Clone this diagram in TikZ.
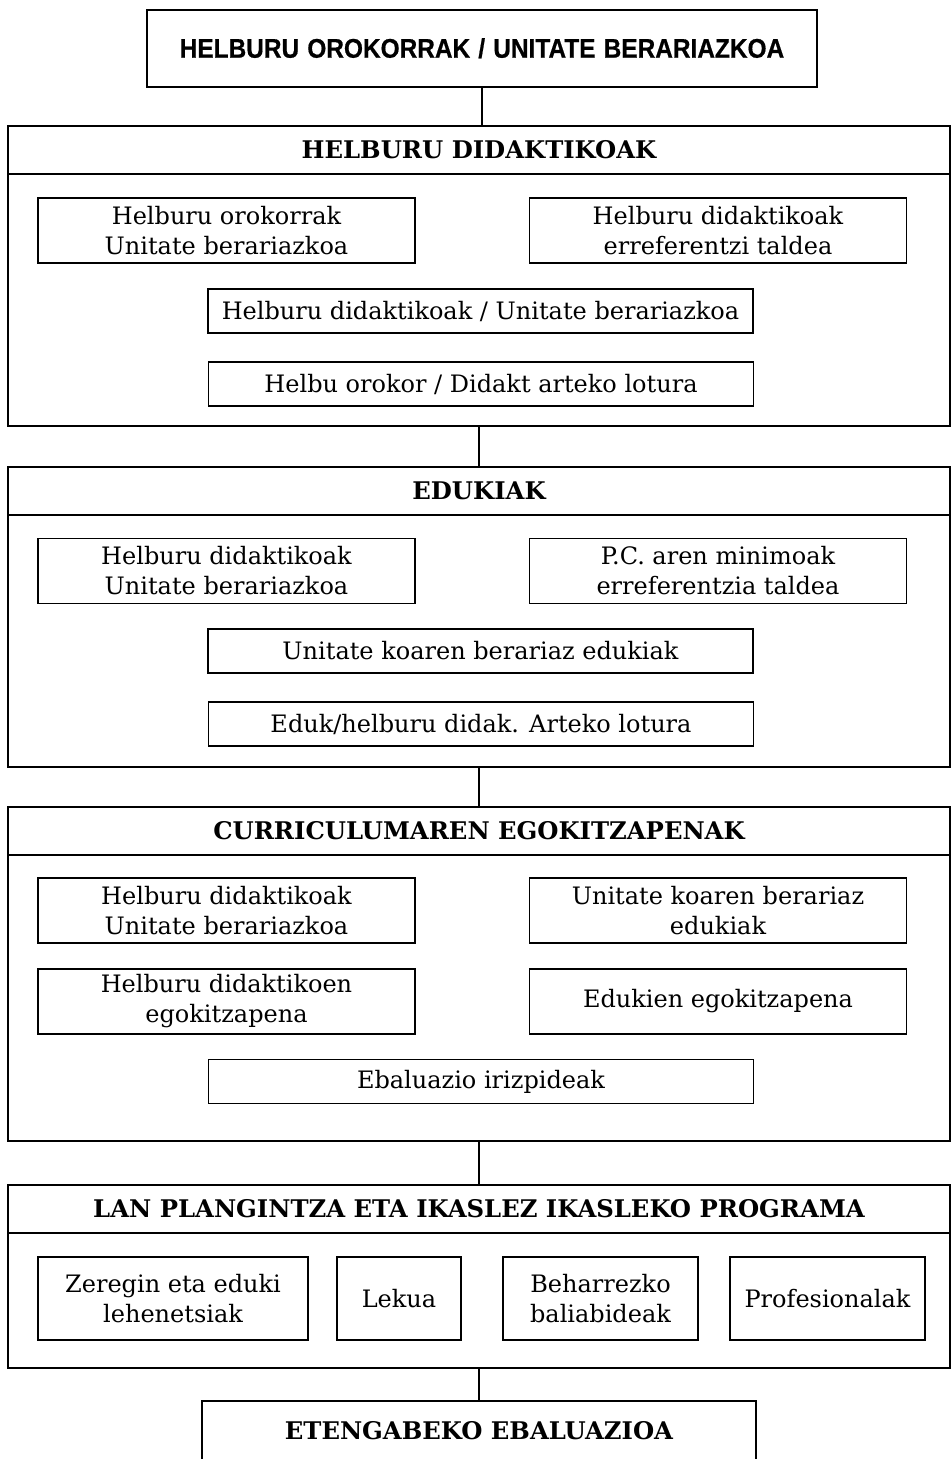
\documentclass[tikz,border=0pt]{standalone}
\usepackage{fontspec}
\setmainfont{DejaVu Serif}
\newfontfamily\titlefont[FakeStretch=0.905, WordSpace=1.2, FakeBold=0.6]{Liberation Sans}
\tikzset{
  titlebox/.style={draw, line width=2pt, inner sep=0pt, font=\titlefont\bfseries\fontsize{27}{30}\selectfont},
  head/.style={draw, line width=2pt, inner sep=0pt, minimum width=942pt, minimum height=48pt, font=\bfseries\fontsize{24.3}{30}\selectfont},
  body/.style={draw, line width=2pt, inner sep=0pt, minimum width=942pt},
  ibox/.style={draw, line width=1.1pt, inner sep=0pt, align=center, font=\fontsize{24}{30}\selectfont},
  wbox/.style={ibox, minimum width=377pt, minimum height=65pt},
  mbox/.style={ibox, minimum width=545pt, minimum height=44pt},
  link/.style={line width=1.8pt},
}
\begin{document}
\begin{tikzpicture}[x=1pt,y=-1pt]
\useasboundingbox (0,0) rectangle (951,1459);
% top
\node[titlebox, minimum width=670pt, minimum height=77pt] (top) at (482,48.2) {HELBURU OROKORRAK / UNITATE BERARIAZKOA};
% section 1
\node[head] (h1) at (479,150) {HELBURU DIDAKTIKOAK};
\node[body, minimum height=252pt] (b1) at (479,300) {};
\node[wbox] (a1) at (226.5,230.5) {Helburu orokorrak\\Unitate berariazkoa};
\node[wbox] (a2) at (718,230.5) {Helburu didaktikoak\\erreferentzi taldea};
\node[mbox] (a3) at (480.5,311) {Helburu didaktikoak / Unitate berariazkoa};
\node[mbox] (a4) at (481,384) {Helbu orokor / Didakt arteko lotura};
% section 2
\node[head] (h2) at (479,491) {EDUKIAK};
\node[body, minimum height=252pt] (b2) at (479,641) {};
\node[wbox] (c1) at (226.5,571) {Helburu didaktikoak\\Unitate berariazkoa};
\node[wbox] (c2) at (718,571) {P.C. aren minimoak\\erreferentzia taldea};
\node[mbox] (c3) at (480.5,651) {Unitate koaren berariaz edukiak};
\node[mbox] (c4) at (481,724) {Eduk/helburu didak. Arteko lotura};
% section 3
\node[head] (h3) at (479,831) {CURRICULUMAREN EGOKITZAPENAK};
\node[body, minimum height=286pt] (b3) at (479,998) {};
\node[wbox] (d1) at (226.5,910.5) {Helburu didaktikoak\\Unitate berariazkoa};
\node[wbox] (d2) at (718,910.5) {Unitate koaren berariaz\\edukiak};
\node[wbox] (d3) at (226.5,1001.5) {Helburu didaktikoen\\egokitzapena};
\node[wbox] (d4) at (718,1001.5) {Edukien egokitzapena};
\node[mbox] (d5) at (481,1081.5) {Ebaluazio irizpideak};
% section 4
\node[head] (h4) at (479,1209) {LAN PLANGINTZA ETA IKASLEZ IKASLEKO PROGRAMA};
\node[body, minimum height=135pt] (b4) at (479,1300.5) {};
\node[ibox, minimum width=270pt, minimum height=83pt] (e1) at (173,1298.5) {Zeregin eta eduki\\lehenetsiak};
\node[ibox, minimum width=124pt, minimum height=83pt] (e2) at (399,1298.5) {Lekua};
\node[ibox, minimum width=195pt, minimum height=83pt] (e3) at (600.5,1298.5) {Beharrezko\\baliabideak};
\node[ibox, minimum width=195pt, minimum height=83pt] (e4) at (827.5,1298.5) {Profesionalak};
% bottom
\node[head, minimum width=554pt, minimum height=60pt] (ev) at (479,1431) {ETENGABEKO EBALUAZIOA};
% connectors
\draw[link] (top.south) -- (top.south |- h1.north);
\draw[link] (b1.south) -- (h2.north);
\draw[link] (b2.south) -- (h3.north);
\draw[link] (b3.south) -- (h4.north);
\draw[link] (b4.south) -- (ev.north);
\end{tikzpicture}
\end{document}
